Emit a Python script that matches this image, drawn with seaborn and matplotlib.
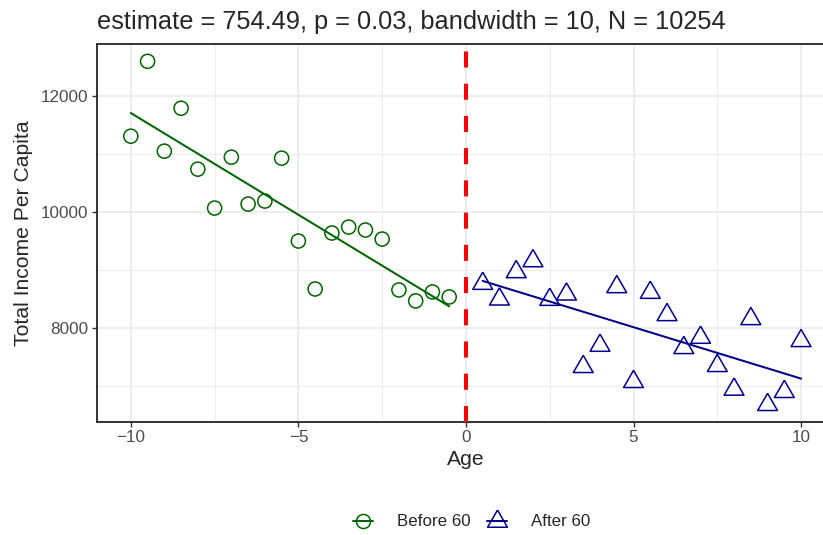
import numpy as np
import pandas as pd
import matplotlib
matplotlib.use("Agg")
import matplotlib.pyplot as plt
import seaborn as sns
from matplotlib.lines import Line2D
from matplotlib.markers import MarkerStyle

# ---------------- data ----------------
age_before = [-10, -9.5, -9, -8.5, -8, -7.5, -7, -6.5, -6, -5.5,
              -5, -4.5, -4, -3.5, -3, -2.5, -2, -1.5, -1, -0.5]
income_before = [11310, 12603, 11052, 11793, 10741, 10069, 10948, 10138, 10190, 10931,
                 9500, 8672, 9638, 9741, 9690, 9534, 8655, 8466, 8621, 8534]

age_after = [0.5, 1, 1.5, 2, 2.5, 3, 3.5, 4, 4.5, 5,
             5.5, 6, 6.5, 7, 7.5, 8, 8.5, 9, 9.5, 10]
income_after = [8764, 8494, 8966, 9155, 8488, 8580, 7328, 7695, 8707, 7069,
                8609, 8224, 7655, 7833, 7345, 6937, 8155, 6672, 6897, 7776]

title_text = "estimate = 754.49, p = 0.03, bandwidth = 10, N = 10254"
x_label = "Age"
y_label = "Total Income Per Capita"
legend_labels = ["Before 60", "After 60"]
cutoff = 0
x_ticks = [-10, -5, 0, 5, 10]
x_minor = [-7.5, -2.5, 2.5, 7.5]
y_ticks = [8000, 10000, 12000]
y_minor = [7000, 9000, 11000]

# ---------------- style ----------------
sns.set_theme(style="white")
plt.rcParams["font.family"] = ["Liberation Sans", "DejaVu Sans"]

green = "#006400"
blue = "#00008B"
# equilateral triangle centred on its centroid (like R's pch 2)
tri = MarkerStyle([(0, 1.5551), (1.3468, -0.7776), (-1.3468, -0.7776), (0, 1.5551)])

W, H = 823, 535
fig = plt.figure(figsize=(W / 100, H / 100), dpi=100)
L, R, T, B = 97.3, 834.6, 44.3, 421.7
ax = fig.add_axes([L / W, 1 - B / H, (R - L) / W, (B - T) / H])

df_b = pd.DataFrame({"age": age_before, "income": income_before})
df_a = pd.DataFrame({"age": age_after, "income": income_after})

sns.scatterplot(data=df_b, x="age", y="income", ax=ax, marker="o", s=103,
                color=green, facecolor="none", edgecolor=green, linewidth=1.1, zorder=3)
sns.scatterplot(data=df_a, x="age", y="income", ax=ax, marker=tri, s=272,
                color=blue, facecolor="none", edgecolor=blue, linewidth=1.1, zorder=3)
sns.regplot(data=df_b, x="age", y="income", ax=ax, scatter=False, ci=None,
            color=green, line_kws={"lw": 1.45, "zorder": 4})
sns.regplot(data=df_a, x="age", y="income", ax=ax, scatter=False, ci=None,
            color=blue, line_kws={"lw": 1.45, "zorder": 4})
ax.axvline(cutoff, color="#FF0000", lw=2.9, linestyle=(0, (4, 4)), zorder=5)

ax.set_xlim(-11, 11)
ax.set_ylim(6380, 12897)
ax.set_xticks(x_ticks)
ax.set_xticks(x_minor, minor=True)
ax.set_yticks(y_ticks)
ax.set_yticks(y_minor, minor=True)
ax.set_xticklabels([str(v).replace("-", "\u2212") for v in x_ticks])
ax.set_yticklabels([str(v) for v in y_ticks])
ax.grid(which="major", color="#EBEBEB", lw=1.25)
ax.grid(which="minor", color="#EBEBEB", lw=0.65)
ax.set_axisbelow(True)
ax.tick_params(which="major", length=3.8, width=1.0, color="#333333",
               labelcolor="#4D4D4D", labelsize=12.3, pad=2.5, direction="out",
               bottom=True, left=True)
ax.tick_params(which="minor", length=0)
for sp in ax.spines.values():
    sp.set_color("#333333")
    sp.set_linewidth(1.4)
ax.set_xlabel("")
ax.set_ylabel("")

fig.text(L / W, 1 - 29 / H, title_text, fontsize=18.3, ha="left", va="baseline")
fig.text(465.5 / W, 1 - 465 / H, x_label, fontsize=15.2, ha="center", va="baseline")
fig.text(23.5 / W, 1 - 232.7 / H, y_label, fontsize=15.2, rotation=90,
         ha="center", va="center")

handles = [
    Line2D([0], [0], color=green, lw=1.45, marker="o", markersize=10.15,
           markerfacecolor="none", markeredgecolor=green, markeredgewidth=1.1),
    Line2D([0], [0], color=blue, lw=1.45, marker=tri, markersize=16.5,
           markerfacecolor="none", markeredgecolor=blue, markeredgewidth=1.1),
]
fig.legend(handles, legend_labels, loc="center", bbox_to_anchor=(471.5 / W, 1 - 522 / H),
           ncol=2, frameon=False, fontsize=12.2, handlelength=1.2, handletextpad=1.4,
           columnspacing=1.0, borderpad=0)

fig.savefig("out.png", dpi=100)
